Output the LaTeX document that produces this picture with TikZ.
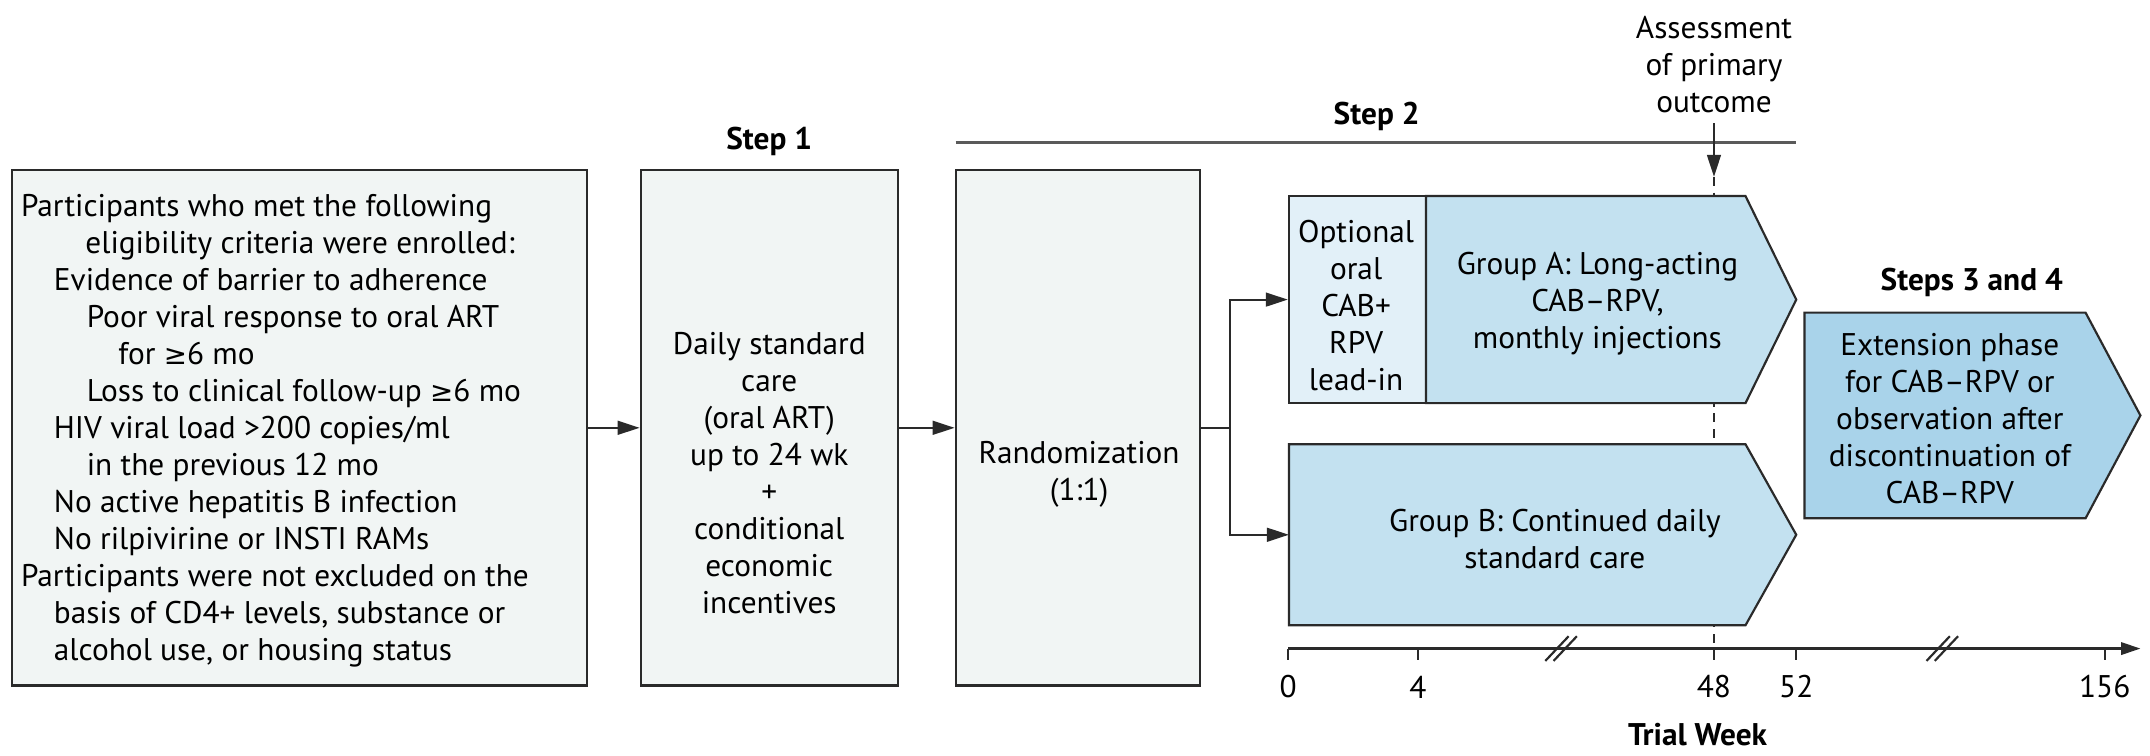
\documentclass[tikz,border=0pt]{standalone}
\usepackage{fontspec}
\setmainfont{PT Sans}
\newfontfamily\symfam{DejaVu Sans}
\newcommand{\geqsym}{{\symfam\fontsize{11.5}{15.36}\selectfont ≥}}
\usetikzlibrary{arrows.meta}
\definecolor{boxgray}{HTML}{F1F5F4}
\definecolor{edge}{HTML}{2A2A2A}
\definecolor{grpblue}{HTML}{C3E1F0}
\definecolor{leadblue}{HTML}{E2F0F8}
\definecolor{extblue}{HTML}{A9D3EA}
\definecolor{stepline}{HTML}{5A5A5A}
\begin{document}
\begin{tikzpicture}[x=0.02cm,y=-0.02cm,
  font=\fontsize{13}{15.36}\selectfont,
  graybox/.style={draw=edge, fill=boxgray, line width=0.9pt, inner sep=0pt, minimum height=7.52cm},
  outline/.style={draw=edge, line width=0.9pt},
  txt/.style={inner sep=0pt, align=center},
  hd/.style={inner sep=0pt, font=\fontsize{13}{15.36}\selectfont\bfseries},
  arr/.style={draw=edge, line width=0.9pt, -{Triangle[length=0.32cm,width=0.2cm]}},
  conn/.style={draw=edge, line width=0.9pt},
  tick/.style={draw=edge, line width=0.9pt},
  ticklab/.style={inner sep=0pt},
  dashline/.style={draw=edge, line width=0.9pt, dash pattern=on 0.13cm off 0.1cm}
]
\useasboundingbox (0,0) rectangle (1568,551);

% dashed assessment line (behind boxes)
\coordinate (asTip) at (1250,129);
\coordinate (asAxis) at (1250,473);
\draw[dashline] (asTip) -- (asAxis);

% boxes
\node[graybox, minimum width=8.38cm] (elig) at (218.5,312) {};
\node[graybox, minimum width=3.75cm] (daily) at (561,312) {};
\node[graybox, minimum width=3.56cm] (rand) at (786,312) {};

\node[inner sep=0pt, anchor=west, align=left] (eligtxt) at (15,314) {%
Participants who met the following\\
\hspace*{0.94cm}eligibility criteria were enrolled:\\
\hspace*{0.48cm}Evidence of barrier to adherence\\
\hspace*{0.96cm}Poor viral response to oral ART\\
\hspace*{1.42cm}for \geqsym6 mo\\
\hspace*{0.96cm}Loss to clinical follow-up \geqsym6 mo\\
\hspace*{0.48cm}HIV viral load >200 copies/ml\\
\hspace*{0.96cm}in the previous 12 mo\\
\hspace*{0.48cm}No active hepatitis B infection\\
\hspace*{0.48cm}No rilpivirine or INSTI RAMs\\
Participants were not excluded on the\\
\hspace*{0.48cm}basis of CD4+ levels, substance or\\
\hspace*{0.48cm}alcohol use, or housing status};

\node[txt] (dailytxt) at (561,345) {Daily standard\\care\\(oral ART)\\up to 24 wk\\+\\conditional\\economic\\incentives};
\node[txt] (randtxt) at (787,346) {Randomization\\(1:1)};

% Group A
\node[outline, fill=leadblue, inner sep=0pt, minimum width=2cm, minimum height=3.02cm] (lead) at (990,218.5) {};
\draw[outline, fill=grpblue] (1040,143) -- (1273,143) -- (1310,218.5) -- (1273,294) -- (1040,294) -- cycle;
\node[txt] (leadtxt) at (989,222.5) {Optional\\oral\\CAB+\\RPV\\lead-in};
\node[txt] (grpAtxt) at (1165,221.5) {Group A: Long-acting\\CAB–RPV,\\monthly injections};

% Group B
\coordinate (grpBw) at (940,390);
\draw[outline, fill=grpblue] (940,324) -- (1273,324) -- (1310,390) -- (1273,456) -- (940,456) -- cycle;
\node[txt] (grpBtxt) at (1134,393) {Group B: Continued daily\\standard care};

% Extension
\draw[outline, fill=extblue] (1316,228) -- (1521,228) -- (1561,303) -- (1521,378) -- (1316,378) -- cycle;
\node[txt] (exttxt) at (1422,305) {Extension phase\\for CAB–RPV or\\observation after\\discontinuation of\\CAB–RPV};

% headings
\node[hd] (step1) at (561,103) {Step 1};
\node[hd] (step2) at (1004,85) {Step 2};
\node[hd] (step34) at (1438,206) {Steps 3 and 4};
\coordinate (s2a) at (697,104);
\coordinate (s2b) at (1310,104);
\draw[draw=stepline, line width=1.3pt] (s2a) -- (s2b);

\node[txt] (assess) at (1250,47) {Assessment\\of primary\\outcome};
\coordinate (asTop) at (1250,90);
\draw[arr] (asTop) -- (asTip);

% connectors
\draw[arr] (elig.east) -- (daily.west);
\draw[arr] (daily.east) -- (rand.west);
\coordinate (split) at (897,312);
\draw[conn] (rand.east) -- (split);
\draw[arr] (split) |- (lead.west);
\draw[arr] (split) |- (grpBw);

% timeline
\coordinate (ax0) at (939.5,473);
\coordinate (axEnd) at (1561,473);
\draw[draw=edge, line width=0.9pt, -{Triangle[length=0.28cm,width=0.18cm]}] (ax0) -- (axEnd);
\foreach \xx/\lab in {939.5/0, 1034/4, 1250/48, 1310/52, 1535/156}{
  \draw[tick] (\xx,473) -- (\xx,481);
  \node[ticklab] (t\lab) at (\xx,501) {\lab};
}
\foreach \cc in {1138,1416}{
  \draw[tick] (\cc-11,482) -- (\cc+6,464);
  \draw[tick] (\cc-5,482) -- (\cc+12,464);
}
\node[hd] (trialweek) at (1238,536) {Trial Week};
\end{tikzpicture}
\end{document}
